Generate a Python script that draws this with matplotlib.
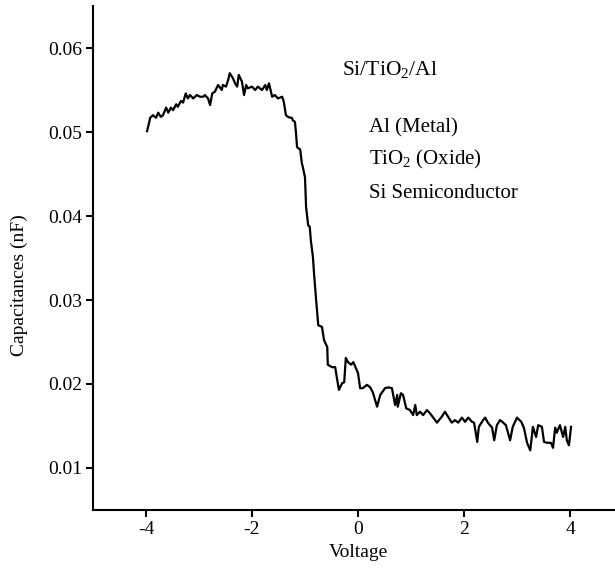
import matplotlib
matplotlib.use("Agg")
import matplotlib.pyplot as plt

plt.rcParams['font.family'] = ['Liberation Serif', 'DejaVu Serif']
plt.rcParams['mathtext.fontset'] = 'custom'
plt.rcParams['mathtext.rm'] = 'Liberation Serif'
plt.rcParams['mathtext.it'] = 'Liberation Serif:italic'

voltage = [-3.98, -3.92, -3.87, -3.81, -3.77, -3.72, -3.68, -3.62, -3.58, -3.53,
           -3.49, -3.43, -3.40, -3.34, -3.30, -3.25, -3.21, -3.17, -3.11, -3.04,
           -2.98, -2.92, -2.89, -2.83, -2.79, -2.75, -2.70, -2.64, -2.57, -2.55,
           -2.49, -2.45, -2.42, -2.36, -2.32, -2.28, -2.25, -2.19, -2.15, -2.11,
           -2.08, -2.00, -1.94, -1.89, -1.81, -1.75, -1.72, -1.68, -1.62, -1.57,
           -1.51, -1.43, -1.40, -1.36, -1.32, -1.28, -1.25, -1.23, -1.19, -1.17,
           -1.15, -1.09, -1.06, -1.04, -1.00, -0.98, -0.94, -0.91, -0.89, -0.85,
           -0.83, -0.79, -0.75, -0.68, -0.64, -0.58, -0.57, -0.49, -0.43, -0.40,
           -0.36, -0.30, -0.26, -0.23, -0.19, -0.13, -0.09, -0.04, 0.00, 0.04,
           0.09, 0.17, 0.23, 0.28, 0.36, 0.42, 0.51, 0.57, 0.64, 0.70,
           0.74, 0.75, 0.81, 0.85, 0.91, 0.98, 1.04, 1.08, 1.11, 1.17,
           1.23, 1.30, 1.36, 1.42, 1.49, 1.58, 1.64, 1.70, 1.77, 1.83,
           1.89, 1.96, 2.02, 2.08, 2.15, 2.19, 2.25, 2.28, 2.36, 2.40,
           2.45, 2.53, 2.57, 2.62, 2.68, 2.74, 2.79, 2.87, 2.92, 3.00,
           3.08, 3.13, 3.19, 3.25, 3.30, 3.36, 3.40, 3.47, 3.51, 3.57,
           3.64, 3.68, 3.72, 3.75, 3.81, 3.87, 3.91, 3.94, 3.98, 4.02]

capacitance = [0.0501, 0.0517, 0.0520, 0.0517, 0.0523, 0.0518, 0.0520, 0.0529, 0.0523, 0.0529,
               0.0526, 0.0533, 0.0530, 0.0537, 0.0535, 0.0546, 0.0540, 0.0544, 0.0540, 0.0544,
               0.0542, 0.0542, 0.0544, 0.0540, 0.0532, 0.0546, 0.0548, 0.0556, 0.0550, 0.0556,
               0.0554, 0.0562, 0.0570, 0.0564, 0.0558, 0.0554, 0.0568, 0.0560, 0.0544, 0.0556,
               0.0552, 0.0554, 0.0550, 0.0554, 0.0550, 0.0556, 0.0550, 0.0558, 0.0542, 0.0544,
               0.0540, 0.0542, 0.0536, 0.0520, 0.0518, 0.0517, 0.0517, 0.0514, 0.0512, 0.0499,
               0.0482, 0.0479, 0.0463, 0.0458, 0.0446, 0.0411, 0.0389, 0.0387, 0.0371, 0.0351,
               0.0332, 0.0300, 0.0270, 0.0268, 0.0252, 0.0244, 0.0223, 0.0220, 0.0220, 0.0208,
               0.0193, 0.0201, 0.0202, 0.0231, 0.0226, 0.0223, 0.0226, 0.0219, 0.0213, 0.0195,
               0.0195, 0.0199, 0.0196, 0.0190, 0.0173, 0.0187, 0.0195, 0.0196, 0.0195, 0.0175,
               0.0187, 0.0173, 0.0189, 0.0187, 0.0171, 0.0169, 0.0163, 0.0175, 0.0163, 0.0167,
               0.0163, 0.0169, 0.0165, 0.0160, 0.0154, 0.0161, 0.0167, 0.0161, 0.0154, 0.0157,
               0.0154, 0.0160, 0.0155, 0.0160, 0.0155, 0.0154, 0.0131, 0.0149, 0.0157, 0.0160,
               0.0154, 0.0148, 0.0133, 0.0151, 0.0157, 0.0154, 0.0151, 0.0133, 0.0149, 0.0160,
               0.0155, 0.0148, 0.0130, 0.0121, 0.0149, 0.0137, 0.0151, 0.0149, 0.0131, 0.0130,
               0.0130, 0.0124, 0.0148, 0.0142, 0.0151, 0.0137, 0.0149, 0.0133, 0.0127, 0.0149]

x_ticks = [-4, -2, 0, 2, 4]
x_tick_labels = ['-4', '-2', '0', '2', '4']
y_ticks = [0.01, 0.02, 0.03, 0.04, 0.05, 0.06]
y_tick_labels = ['0.01', '0.02', '0.03', '0.04', '0.05', '0.06']

title_text = r'Si/TiO$_2$/Al'
layer_lines = ['Al (Metal)', r'TiO$_2$ (Oxide)', 'Si Semiconductor']
layer_y = [0.0505, 0.0467, 0.0427]

fig = plt.figure(figsize=(6.15, 5.69), dpi=100)
ax = fig.add_axes([93 / 615, 1 - 510 / 569, 530 / 615, 504 / 569])

ax.plot(voltage, capacitance, color='black', linewidth=1.6)

ax.set_xlim(-5, 5)
ax.set_ylim(0.005, 0.065)
ax.set_xticks(x_ticks)
ax.set_xticklabels(x_tick_labels)
ax.set_yticks(y_ticks)
ax.set_yticklabels(y_tick_labels)

for side in ['top', 'right']:
    ax.spines[side].set_visible(False)
for side in ['left', 'bottom']:
    ax.spines[side].set_linewidth(1.5)
ax.tick_params(axis='both', direction='out', length=5, width=1.5, labelsize=14, pad=3)

ax.set_xlabel('Voltage', fontsize=14, labelpad=4)
ax.set_ylabel('Capacitances (nF)', fontsize=14)
ax.yaxis.set_label_coords(-0.123, 0.446)

ax.text(-0.3, 0.0574, title_text, fontsize=15.5, ha='left', va='center')
for txt, yy in zip(layer_lines, layer_y):
    ax.text(0.2, yy, txt, fontsize=15, ha='left', va='center')

fig.savefig('out.png', dpi=100)
